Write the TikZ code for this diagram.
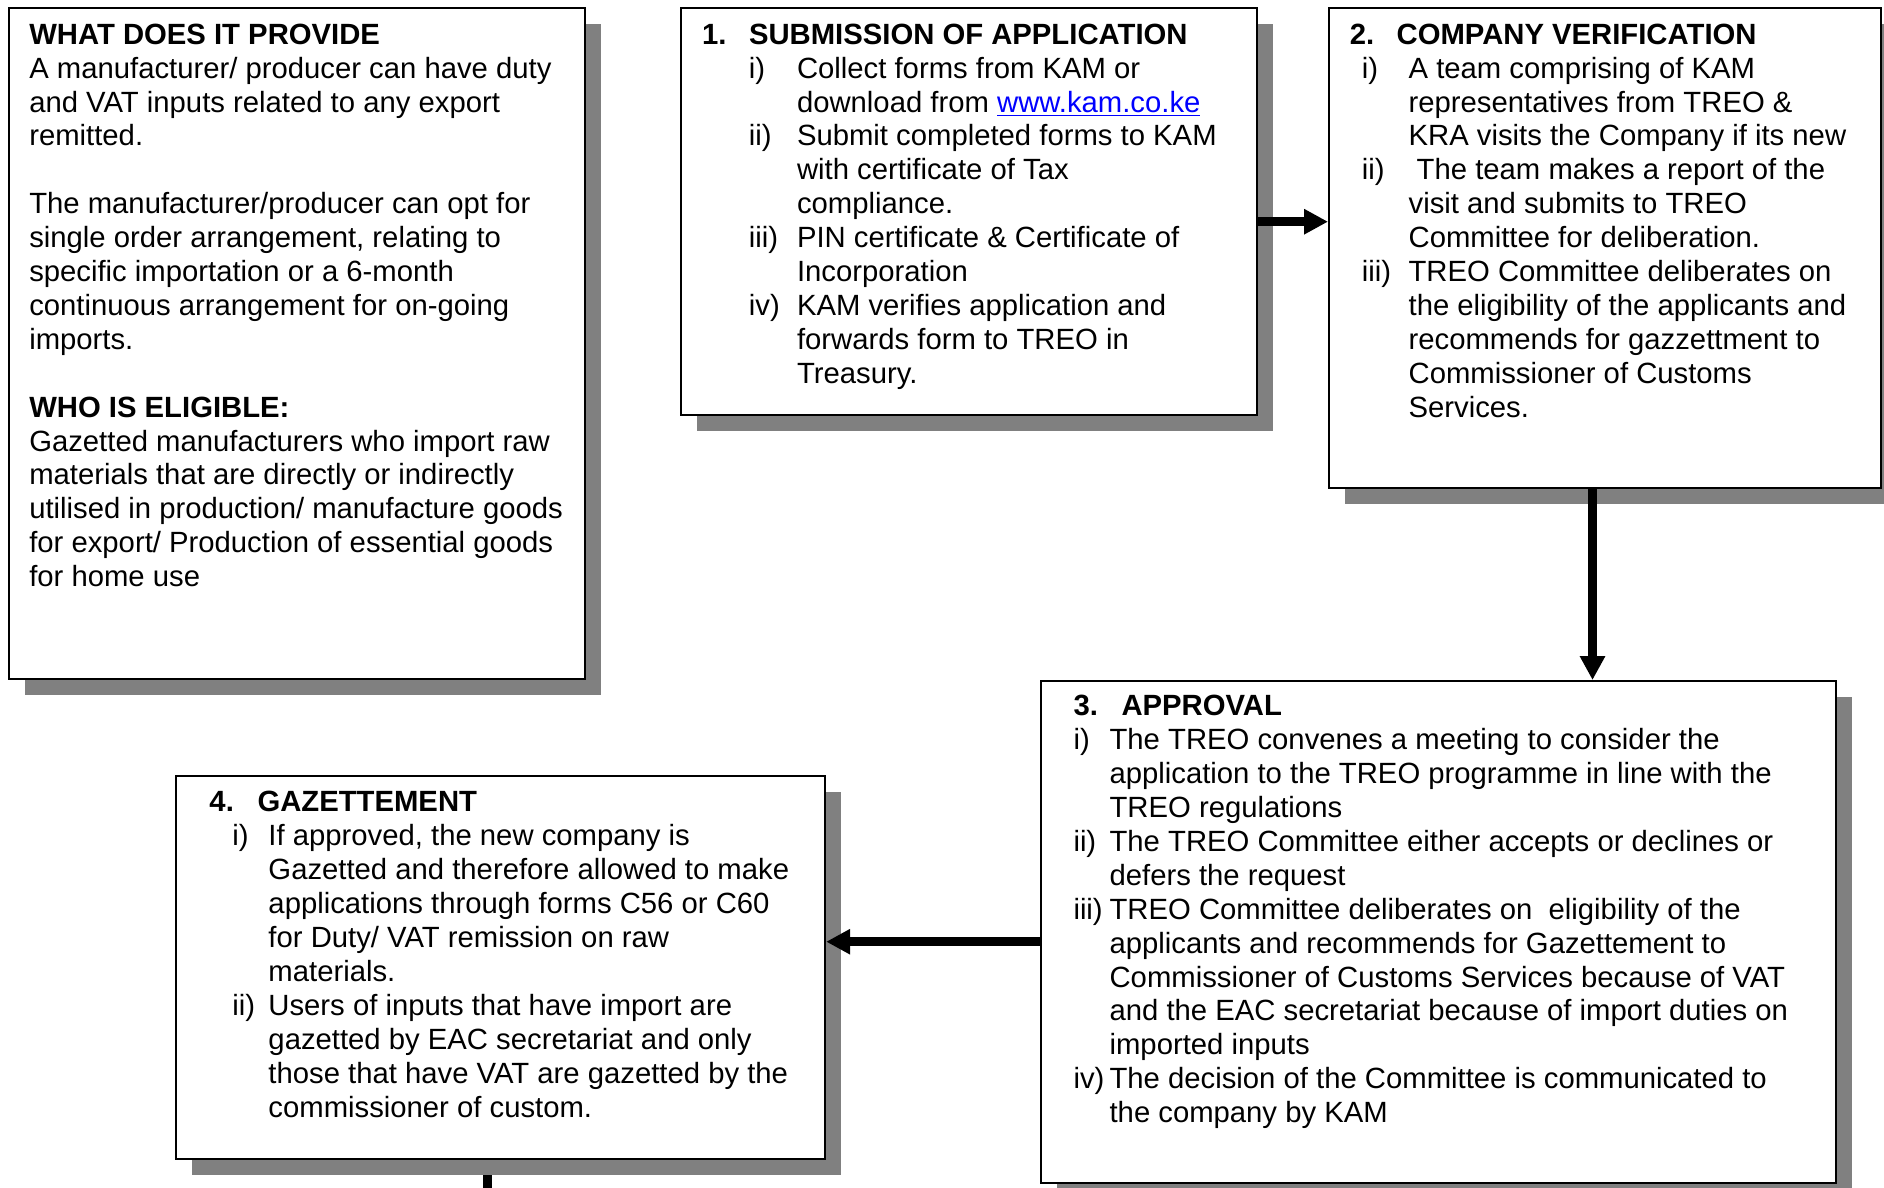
\documentclass[tikz,border=0pt]{standalone}
\usepackage{fontspec}
\setmainfont{Liberation Sans}
\usetikzlibrary{arrows.meta,shadows,backgrounds}
\definecolor{shadowgray}{RGB}{128,128,128}
\definecolor{linkblue}{RGB}{0,0,255}
\tikzset{
  stepbox/.style 2 args={draw, fill=white, line width=0.9pt, anchor=north west, inner sep=0pt,
    minimum width=#1*0.41pt, minimum height=#2*0.41pt,
    drop shadow={shadow xshift=6.5pt, shadow yshift=-6.5pt, fill=shadowgray, opacity=1}},
  txt/.style={anchor=base west, inner sep=0pt, font=\fontsize{12pt}{13.9pt}\selectfont},
  flow/.style={line width=3.5pt, -{Triangle[length=9.8pt,width=9.8pt]}}
}
\begin{document}
\begin{tikzpicture}[x=0.41pt,y=-0.41pt]
  \clip (0,0) rectangle (1884,1187);
  % boxes
  \node[stepbox={576}{671}] (b0) at (8,7) {};
  \node[stepbox={576}{407}] (b1) at (680,7) {};
  \node[stepbox={552}{480}] (b2) at (1328,7) {};
  \node[stepbox={795}{502}] (b3) at (1040,680) {};
  \node[stepbox={649}{383}] (b4) at (175,775) {};
  % what does it provide
  \node[txt] (t0) at (28.8,44.2) {\begin{tabular}[t]{@{}l@{}}
    \textbf{WHAT DOES IT PROVIDE}\\
    A manufacturer/ producer can have duty\\
    and VAT inputs related to any export\\
    remitted.\\
    \\
    The manufacturer/producer can opt for\\
    single order arrangement, relating to\\
    specific importation or a 6-month\\
    continuous arrangement for on-going\\
    imports.\\
    \\
    \textbf{WHO IS ELIGIBLE:}\\
    Gazetted manufacturers who import raw\\
    materials that are directly or indirectly\\
    utilised in production/ manufacture goods\\
    for export/ Production of essential goods\\
    for home use
  \end{tabular}};
  % 1. submission
  \node[txt] (h1) at (701.7,44.2) {\textbf{\makebox[19.2pt][l]{1.}SUBMISSION OF APPLICATION}};
  \node[txt] (l1) at (748.5,78.1) {\begin{tabular}[t]{@{}p{19.7pt}@{}l@{}}
    i) & Collect forms from KAM or\\
       & download from \textcolor{linkblue}{\underline{www.kam.co.ke}}\\
    ii) & Submit completed forms to KAM\\
        & with certificate of Tax\\
        & compliance.\\
    iii) & PIN certificate \& Certificate of\\
         & Incorporation\\
    iv) & KAM verifies application and\\
        & forwards form to TREO in\\
        & Treasury.
  \end{tabular}};
  % 2. verification
  \node[txt] (h2) at (1349.3,44.2) {\textbf{\makebox[19.2pt][l]{2.}COMPANY VERIFICATION}};
  \node[txt] (l2) at (1361.3,78.1) {\begin{tabular}[t]{@{}p{19.2pt}@{}l@{}}
    i) & A team comprising of KAM\\
       & representatives from TREO \&\\
       & KRA visits the Company if its new\\
    ii) & \ The team makes a report of the\\
        & visit and submits to TREO\\
        & Committee for deliberation.\\
    iii) & TREO Committee deliberates on\\
         & the eligibility of the applicants and\\
         & recommends for gazzettment to\\
         & Commissioner of Customs\\
         & Services.
  \end{tabular}};
  % 3. approval
  \node[txt] (h3) at (1073,715.8) {\textbf{\makebox[19.7pt][l]{3.}APPROVAL}};
  \node[txt] (l3) at (1073,749.7) {\begin{tabular}[t]{@{}p{14.8pt}@{}l@{}}
    i) & The TREO convenes a meeting to consider the\\
       & application to the TREO programme in line with the\\
       & TREO regulations\\
    ii) & The TREO Committee either accepts or declines or\\
        & defers the request\\
    iii) & TREO Committee deliberates on\ \ eligibility of the\\
         & applicants and recommends for Gazettement to\\
         & Commissioner of Customs Services because of VAT\\
         & and the EAC secretariat because of import duties on\\
         & imported inputs\\
    iv) & The decision of the Committee is communicated to\\
        & the company by KAM
  \end{tabular}};
  % 4. gazettement
  \node[txt] (h4) at (209,811.9) {\textbf{\makebox[19.7pt][l]{4.}GAZETTEMENT}};
  \node[txt] (l4) at (231.9,845.8) {\begin{tabular}[t]{@{}p{14.8pt}@{}l@{}}
    i) & If approved, the new company is\\
       & Gazetted and therefore allowed to make\\
       & applications through forms C56 or C60\\
       & for Duty/ VAT remission on raw\\
       & materials.\\
    ii) & Users of inputs that have import are\\
        & gazetted by EAC secretariat and only\\
        & those that have VAT are gazetted by the\\
        & commissioner of custom.
  \end{tabular}};
  % arrows
  \draw[flow] (b1.east |- 0,221.7) -- (b2.west |- 0,221.7);
  \draw[flow] (b2.south -| 1592.5,0) -- (b3.north -| 1592.5,0);
  \draw[flow] (b3.west |- 0,941.7) -- (b4.east |- 0,941.7);
  \coordinate (exit) at (487.5,1195);
  \begin{scope}[on background layer]
    \draw[line width=3.5pt] (b4.south -| exit) -- (exit);
  \end{scope}
\end{tikzpicture}
\end{document}
